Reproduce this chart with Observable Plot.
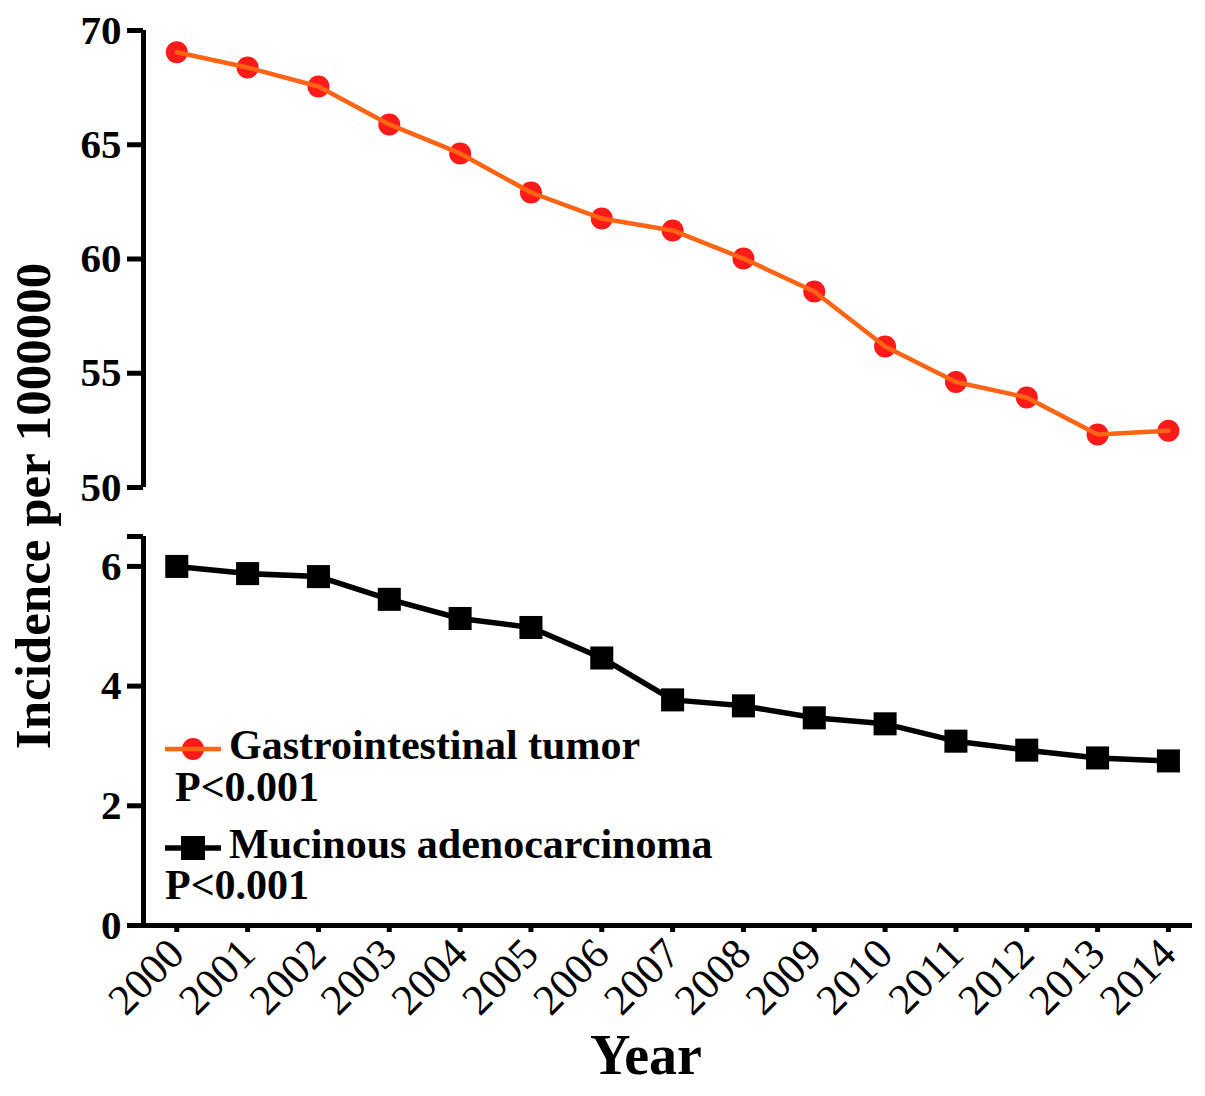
<!DOCTYPE html>
<html>
<head>
<meta charset="utf-8">
<script src="https://cdn.jsdelivr.net/npm/d3@7"></script>
<script src="https://cdn.jsdelivr.net/npm/@observablehq/plot@0.6"></script>
<style>
  body { margin: 0; background: #fff; }
  #wrap { position: relative; width: 1205px; height: 1096px; font-family: "Liberation Serif", "Times New Roman", serif; }
  #wrap > svg { position: absolute; left: 0; top: 0; }
  .leg { position: absolute; font-weight: bold; font-size: 42px; line-height: 1; white-space: nowrap; color: #000; }
  .leg svg { vertical-align: middle; }
</style>
</head>
<body>
<div id="wrap"></div>
<script>
// valores
const years = [2000, 2001, 2002, 2003, 2004, 2005, 2006, 2007, 2008, 2009, 2010, 2011, 2012, 2013, 2014]
const gastro = [69.05, 68.38, 67.55, 65.89, 64.62, 62.91, 61.77, 61.25, 60.02, 58.58, 56.17, 54.62, 53.94, 52.32, 52.48]
const mucinous = [6.0, 5.88, 5.83, 5.45, 5.13, 4.98, 4.47, 3.77, 3.67, 3.47, 3.37, 3.08, 2.93, 2.8, 2.75]
const topTicks = [50, 55, 60, 65, 70]
const bottomTicks = [0, 2, 4, 6]

const xDomain = [1999.53, 2014.34]
const gi = years.map((year, i) => ({year, value: gastro[i]}))
const muc = years.map((year, i) => ({year, value: mucinous[i]}))

const font = '"Liberation Serif", "Times New Roman", serif'
const W = 1205, H = 1096

// eje y partido: dos graficos superpuestos con el mismo eje x
const base = {
  width: W,
  height: H,
  marginLeft: 143,
  marginRight: 13,
  style: {fontFamily: font, color: '#000', background: 'transparent', overflow: 'visible'}
}
const yAxisOpts = {tickSize: 16, tickPadding: 6, strokeWidth: 5, fontSize: 41, fontWeight: 'bold', label: null}

// panel superior 50-70
let topChart = Plot.plot({
  ...base,
  marginTop: 30,
  marginBottom: H - 487,
  x: {domain: xDomain, axis: null},
  y: {domain: [50, 70]},
  marks: [
    Plot.ruleX([xDomain[0]], {stroke: '#000', strokeWidth: 5}),
    Plot.axisY({...yAxisOpts, ticks: topTicks}),
    Plot.dot(gi, {x: 'year', y: 'value', r: 11, fill: '#ff1a1a', stroke: 'none'}),
    Plot.line(gi, {x: 'year', y: 'value', stroke: '#ff6414', strokeWidth: 4.5})
  ]
})

// panel inferior 0-6.5
let bottomChart = Plot.plot({
  ...base,
  marginTop: 536,
  marginBottom: H - 925,
  x: {domain: xDomain},
  y: {domain: [0, 6.5]},
  marks: [
    Plot.ruleX([xDomain[0]], {stroke: '#000', strokeWidth: 5}),
    Plot.ruleY([0], {stroke: '#000', strokeWidth: 5}),
    Plot.axisY({...yAxisOpts, ticks: [...bottomTicks, 6.5], tickFormat: d => (d === 6.5 ? '' : d)}),
    Plot.axisX({
      ticks: years,
      tickFormat: d => String(d),
      tickSize: 7,
      tickPadding: 14,
      strokeWidth: 5,
      tickRotate: -45,
      fontSize: 43,
      label: null
    }),
    Plot.text(['Year'], {
      frameAnchor: 'bottom', dx: -22, dy: 148,
      fontSize: 56, fontWeight: 'bold', fill: '#000'
    }),
    Plot.line(muc, {x: 'year', y: 'value', stroke: '#000', strokeWidth: 5.5}),
    Plot.dot(muc, {x: 'year', y: 'value', symbol: 'square', r: 13, fill: '#000', stroke: 'none'})
  ]
})

const wrap = d3.select('#wrap')
wrap.append(() => topChart)
wrap.append(() => bottomChart)

// titulo del eje y (abarca ambos paneles)
d3.select(bottomChart).append('text')
  .attr('transform', 'translate(33,506) rotate(-90)')
  .attr('text-anchor', 'middle')
  .attr('dominant-baseline', 'central')
  .attr('font-size', 51)
  .attr('font-weight', 'bold')
  .attr('fill', '#000')
  .text('Incidence per 1000000')

// leyenda
function legendItem(topPx, left, sym, label) {
  const div = wrap.append('div').attr('class', 'leg').style('top', topPx + 'px').style('left', left + 'px')
  const svg = div.append('svg').attr('width', 60).attr('height', 30)
  if (sym === 'circle') {
    svg.append('circle').attr('cx', 30).attr('cy', 15).attr('r', 11).attr('fill', '#ff1a1a')
    svg.append('line').attr('x1', 2).attr('x2', 58).attr('y1', 15).attr('y2', 15).attr('stroke', '#ff6414').attr('stroke-width', 4.5)
  } else {
    svg.append('line').attr('x1', 2).attr('x2', 58).attr('y1', 15).attr('y2', 15).attr('stroke', '#000').attr('stroke-width', 5.5)
    svg.append('rect').attr('x', 18).attr('y', 3).attr('width', 24).attr('height', 24).attr('fill', '#000')
  }
  div.append('span').style('margin-left', '6px').text(label)
}
legendItem(724, 163, 'circle', 'Gastrointestinal tumor')
wrap.append('div').attr('class', 'leg').style('top', '766px').style('left', '175px').text('P<0.001')
legendItem(823, 163, 'square', 'Mucinous adenocarcinoma')
wrap.append('div').attr('class', 'leg').style('top', '864px').style('left', '165px').text('P<0.001')
</script>
</body>
</html>
